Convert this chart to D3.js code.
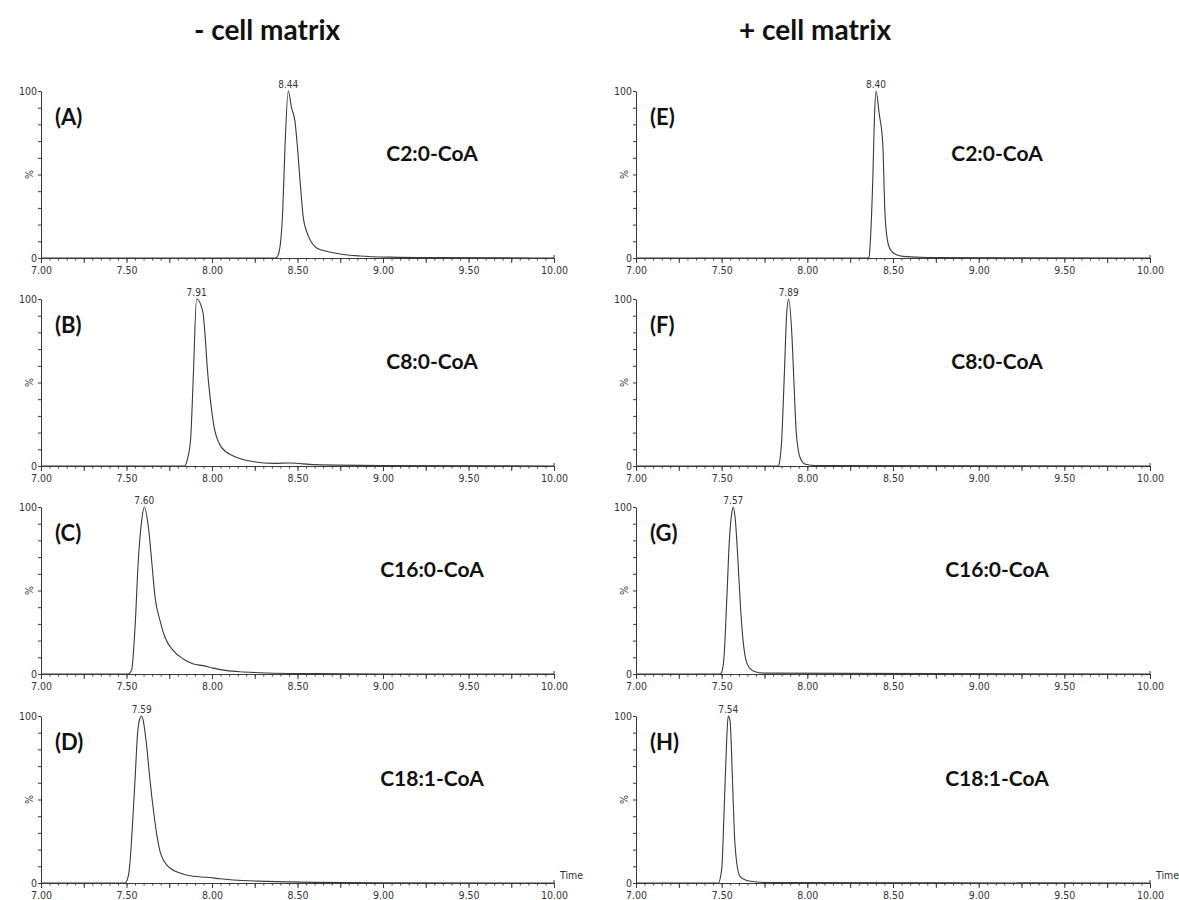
<!DOCTYPE html>
<html>
<head>
<meta charset="utf-8">
<script src="https://cdn.jsdelivr.net/npm/d3@7"></script>
<style>
  body { margin: 0; background: #fff; }
  .tick text { font-family: "DejaVu Sans Condensed", "DejaVu Sans", sans-serif; font-size: 10.5px; fill: #333; }
  .title { font-family: Lato, "Open Sans", sans-serif; font-weight: bold; font-size: 28px; fill: #111; }
  .plabel { font-family: Lato, "Open Sans", sans-serif; font-weight: bold; font-size: 22px; fill: #111; }
  .cname { font-family: Lato, "Open Sans", sans-serif; font-weight: bold; font-size: 21px; fill: #111; }
  .small { font-family: "DejaVu Sans Condensed", "DejaVu Sans", sans-serif; font-size: 10.5px; fill: #333; }
</style>
</head>
<body>
<svg id="chart"></svg>
<script>
// column titles, panel letters, compounds, peak apex labels
var columnTitles = ['- cell matrix', '+ cell matrix'];
var panelLetters = ['A', 'B', 'C', 'D', 'E', 'F', 'G', 'H'];
var compounds = ['C2:0-CoA', 'C8:0-CoA', 'C16:0-CoA', 'C18:1-CoA'];
var peakLabels = ['8.44', '7.91', '7.60', '7.59', '8.40', '7.89', '7.57', '7.54'];
var xTickLabels = ['7.00', '7.50', '8.00', '8.50', '9.00', '9.50', '10.00'];

// retention time (min) and relative intensity (%)
var timeA = [7.00, 8.37, 8.38, 8.398, 8.413, 8.427, 8.446, 8.465, 8.485, 8.50, 8.515, 8.534, 8.553, 8.573, 8.612, 8.671, 8.749, 8.865, 9.04, 9.30, 10.00];
var intA  = [0, 0, 0.5, 7, 27, 67, 100, 90, 82, 66, 46, 24, 16, 11, 6, 4, 2.4, 1.2, 0.5, 0.2, 0];
var timeB = [7.00, 7.84, 7.856, 7.875, 7.89, 7.91, 7.946, 7.978, 8.013, 8.057, 8.125, 8.222, 8.359, 8.456, 8.60, 9.00, 10.00];
var intB  = [0, 0, 4, 16, 52, 100, 92.5, 52, 23, 11, 6, 3, 1.6, 1.8, 0.8, 0.3, 0];
var timeC = [7.00, 7.51, 7.53, 7.55, 7.569, 7.589, 7.604, 7.628, 7.647, 7.667, 7.696, 7.725, 7.774, 7.832, 7.891, 7.949, 8.008, 8.086, 8.183, 8.32, 8.60, 9.00, 10.00];
var intC  = [0, 0, 2.5, 28, 68, 92, 100, 88, 68, 46, 32, 22, 14, 9, 6, 5, 3.5, 2, 1.2, 0.6, 0.2, 0, 0];
var timeD = [7.00, 7.49, 7.51, 7.52, 7.535, 7.55, 7.565, 7.58, 7.589, 7.60, 7.618, 7.637, 7.657, 7.677, 7.696, 7.72, 7.754, 7.813, 7.89, 7.969, 8.05, 8.125, 8.32, 8.60, 9.00, 10.00];
var intD  = [0, 0, 4, 12, 35, 62, 90, 99, 100, 96, 82, 62, 44, 29, 19, 13, 9, 6, 4, 3.4, 2.5, 1.8, 1, 0.4, 0.1, 0];
var timeE = [7.00, 8.35, 8.36, 8.366, 8.382, 8.392, 8.401, 8.42, 8.44, 8.453, 8.467, 8.48, 8.492, 8.52, 8.56, 8.70, 10.00];
var intE  = [0, 0, 0.5, 7, 47, 85, 100, 86, 69, 27, 11, 6, 4, 2, 1, 0.3, 0];
var timeF = [7.00, 7.83, 7.837, 7.85, 7.864, 7.88, 7.891, 7.909, 7.922, 7.934, 7.948, 7.967, 7.99, 8.05, 10.00];
var intF  = [0, 0, 2, 15, 50, 92, 100, 80, 50, 22, 9, 3, 1, 0.2, 0];
var timeG = [7.00, 7.49, 7.50, 7.515, 7.53, 7.545, 7.56, 7.568, 7.58, 7.595, 7.61, 7.625, 7.64, 7.66, 7.69, 7.75, 10.00];
var intG  = [0, 0, 1, 12, 45, 80, 97, 100, 92, 68, 40, 20, 9, 4, 1.5, 0.5, 0];
var timeH = [7.00, 7.48, 7.50, 7.515, 7.529, 7.538, 7.549, 7.562, 7.574, 7.588, 7.607, 7.646, 7.705, 7.80, 10.00];
var intH  = [0, 0, 8, 45, 85, 100, 97, 65, 30, 12, 4, 1.5, 0.6, 0.2, 0];

var traces = [
  [timeA, intA], [timeB, intB], [timeC, intC], [timeD, intD],
  [timeE, intE], [timeF, intF], [timeG, intG], [timeH, intH]
];

var width = 1179, height = 900;
var colLeft = [41, 636], colRight = [554, 1150];
var rowTop = [91, 299, 507, 716], panelH = 167;
var lineColor = '#3a3a3a';

var svg = d3.select('#chart')
  .attr('width', width)
  .attr('height', height);

svg.append('rect').attr('width', width).attr('height', height).attr('fill', '#fff');

svg.selectAll('text.title')
  .data(columnTitles)
  .enter()
  .append('text')
  .attr('class', 'title')
  .attr('x', function(d, i) { return i == 0 ? 267 : 815; })
  .attr('y', 40)
  .attr('text-anchor', 'middle')
  .text(function(d) { return d; });

var minorTicks = d3.range(0, 61).map(function(i) { return 7 + i * 0.05; });
var majorTicks = d3.range(0, 13).map(function(i) { return 7 + i * 0.25; });

traces.forEach(function(tr, k) {
  var col = Math.floor(k / 4), row = k % 4;
  var x = d3.scaleLinear().domain([7, 10]).range([colLeft[col], colRight[col]]);
  var y = d3.scaleLinear().domain([0, 100]).range([rowTop[row] + panelH, rowTop[row]]);
  var g = svg.append('g');

  // y axis
  g.append('g')
    .attr('transform', 'translate(' + colLeft[col] + ',0)')
    .call(d3.axisLeft(y)
      .tickValues(d3.range(0, 101, 10))
      .tickSize(3)
      .tickSizeOuter(0)
      .tickPadding(1)
      .tickFormat(function(d) { return (d == 0 || d == 100) ? d : ''; }));

  // x axis: minor then major ticks
  var y0 = rowTop[row] + panelH;
  g.append('g')
    .attr('transform', 'translate(0,' + y0 + ')')
    .call(d3.axisBottom(x).tickValues(minorTicks).tickSize(2.5).tickSizeOuter(0).tickFormat(''));
  g.append('g')
    .attr('transform', 'translate(0,' + y0 + ')')
    .call(d3.axisBottom(x)
      .tickValues(majorTicks)
      .tickSize(5)
      .tickSizeOuter(0)
      .tickPadding(4)
      .tickFormat(function(d) {
        var j = Math.round((d - 7) / 0.5 * 100) / 100;
        return Number.isInteger(j) ? xTickLabels[j] : '';
      }));
  // little upturn at the end of the time axis
  g.append('line')
    .attr('x1', x(10)).attr('x2', x(10))
    .attr('y1', y0).attr('y2', y0 - 3)
    .attr('stroke', lineColor);

  g.selectAll('.domain, .tick line').attr('stroke', lineColor);

  g.append('text')
    .attr('class', 'small')
    .attr('transform', 'translate(' + (colLeft[col] - 8) + ',' + y(50) + ') rotate(-90)')
    .attr('text-anchor', 'middle')
    .text('%');

  var pts = tr[0].map(function(t, i) { return [t, tr[1][i]]; });
  var line = d3.line()
    .x(function(d) { return x(d[0]); })
    .y(function(d) { return y(d[1]); })
    .curve(d3.curveMonotoneX);
  g.append('path')
    .datum(pts)
    .attr('d', line)
    .attr('fill', 'none')
    .attr('stroke', lineColor)
    .attr('stroke-width', 1.1);

  var apex = pts.reduce(function(a, b) { return b[1] > a[1] ? b : a; });
  g.append('text')
    .attr('class', 'small')
    .style('font-size', '10px')
    .attr('x', x(apex[0]))
    .attr('y', y(apex[1]) - 3)
    .attr('text-anchor', 'middle')
    .text(peakLabels[k]);

  g.append('text')
    .attr('class', 'plabel')
    .attr('x', colLeft[col] + 14)
    .attr('y', rowTop[row] + 34)
    .text('(' + panelLetters[k] + ')');

  g.append('text')
    .attr('class', 'cname')
    .attr('x', col == 0 ? 432 : 997)
    .attr('y', rowTop[row] + 70)
    .attr('text-anchor', 'middle')
    .text(compounds[row]);

  if (row == 3) {
    g.append('text')
      .attr('class', 'small')
      .attr('x', x(10) + 6)
      .attr('y', y0 - 4)
      .text('Time');
  }
});
</script>
</body>
</html>
